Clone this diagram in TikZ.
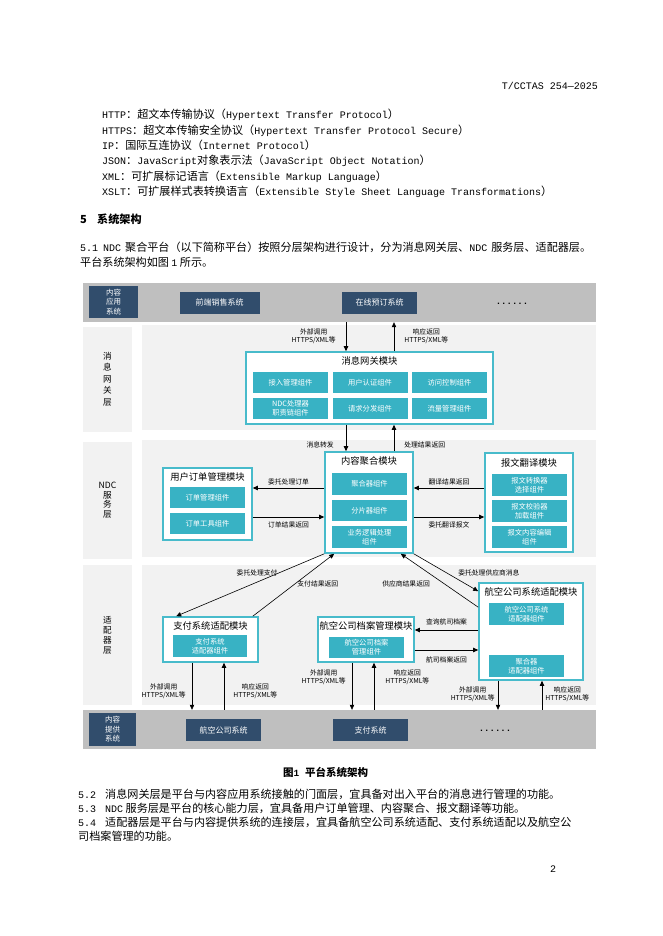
\documentclass[tikz,border=0pt]{standalone}
\usepackage{fontspec}
\setmainfont{Noto Sans CJK SC}
\newfontfamily\mono{Liberation Mono}[Scale=0.9]
\XeTeXlinebreaklocale "zh"
\XeTeXlinebreakskip=0pt plus 1pt
\usetikzlibrary{arrows.meta,calc,positioning}
\definecolor{bandgray}{RGB}{191,191,191}
\definecolor{panelgray}{RGB}{242,242,242}
\definecolor{navybox}{RGB}{49,77,108}
\definecolor{tealline}{RGB}{72,187,203}
\definecolor{tealfill}{RGB}{56,178,196}
\newcommand{\bodysize}{\fontsize{11.1}{15}\selectfont}

\begin{document}
\begin{tikzpicture}[x=1pt,y=-1pt,>={Triangle[length=5pt,width=4.4pt]},
    band/.style={fill=bandgray,inner sep=0,minimum height=39pt},
    panel/.style={fill=panelgray,inner sep=0,align=center},
    sysbox/.style={fill=navybox,text=white,inner sep=0,minimum height=22pt,font=\fontsize{8}{9.5}\selectfont},
    morelbl/.style={inner sep=0,font=\fontsize{10}{10}\selectfont\mono\bfseries},
    layertxt/.style={font=\fontsize{8.6}{#1}\selectfont},
    module/.style={draw=tealline,line width=1.6pt,fill=white,inner sep=0},
    modtitle/.style={inner sep=0,font=\fontsize{9.3}{11}\selectfont},
    comp/.style={fill=tealfill,text=white,inner sep=0,minimum width=75pt,minimum height=21pt,align=center,font=\fontsize{7.3}{8.8}\selectfont},
    lbl/.style={inner sep=0,align=center,font=\fontsize{6.8}{8}\selectfont},
    flow/.style={->,line width=0.6pt},
    body/.style={anchor=base west,inner sep=0,font=\bodysize}]
  \useasboundingbox[fill=white] (0,0) rectangle (662,936);

  % page text above the figure
  \node[body,anchor=base east] (hdr) at (598,90) {\mono T/CCTAS 254—2025};
  \node[body] (ab1) at (102,119) {{\mono HTTP}：超文本传输协议（{\mono Hypertext Transfer Protocol}）};
  \node[body] (ab2) at (102,135) {{\mono HTTPS}：超文本传输安全协议（{\mono Hypertext Transfer Protocol Secure}）};
  \node[body] (ab3) at (102,150) {{\mono IP}：国际互连协议（{\mono Internet Protocol}）};
  \node[body] (ab4) at (102,165) {{\mono JSON}：{\mono JavaScript}对象表示法（{\mono JavaScript Object Notation}）};
  \node[body] (ab5) at (102,180) {{\mono XML}：可扩展标记语言（{\mono Extensible Markup Language}）};
  \node[body] (ab6) at (102,196) {{\mono XSLT}：可扩展样式表转换语言（{\mono Extensible Style Sheet Language Transformations}）};
  \node[body,font=\bodysize\bfseries] (secnum) at (80,223) {5};
  \node[body,font=\bodysize\bfseries] (sectitle) at (97,223) {系统架构};
  \node[body] (p51num) at (80,251) {\mono 5.1};
  \node[body] (p51a) at (103,251) {\makebox[502pt][s]{{\mono NDC}\hspace{4pt}聚合平台（以下简称平台）按照分层架构进行设计，分为消息网关层、{\mono NDC}\hspace{4pt}服务层、适配器层。}};
  \node[body] (p51b) at (80,266) {平台系统架构如图 {\mono 1} 所示。};

  % bands and layer panels
  \node[band,minimum width=513pt] (appband) at (339.5,302.5) {};
  \node[sysbox,minimum width=49pt,minimum height=32pt,align=center,font=\fontsize{7.5}{9.5}\selectfont] (appsys) at (113.5,302) {内容\\应用\\系统};
  \node[sysbox,minimum width=80pt] (frontsale) at (219.5,302.5) {前端销售系统};
  \node[sysbox,minimum width=75pt] (onlinebook) at (379.5,302.5) {在线预订系统};
  \node[morelbl] (appmore) at (512,304) {......};

  \node[panel,minimum width=49pt,minimum height=105pt,layertxt=11.5] (gwlayer) at (107.5,379) {消\\息\\网\\关\\层};
  \node[panel,minimum width=454pt,minimum height=105pt] (gwpanel) at (369,377.5) {};
  \node[panel,minimum width=49pt,minimum height=117pt,layertxt=9.5] (ndclayer) at (107.5,500) {NDC\\服\\务\\层};
  \node[panel,minimum width=454pt,minimum height=117pt] (ndcpanel) at (369,498.5) {};
  \node[panel,minimum width=49pt,minimum height=140pt,layertxt=10] (adlayer) at (107.5,635) {适\\配\\器\\层};
  \node[panel,minimum width=454pt,minimum height=140pt] (adpanel) at (369,635) {};

  \node[band,minimum width=513pt] (provband) at (339.5,729.5) {};
  \node[sysbox,minimum width=47pt,minimum height=33pt,align=center,font=\fontsize{7.5}{9.5}\selectfont] (provsys) at (112.5,729.5) {内容\\提供\\系统};
  \node[sysbox,minimum width=75pt] (airsys) at (223.5,730) {航空公司系统};
  \node[sysbox,minimum width=75pt] (paysys) at (370.5,730) {支付系统};
  \node[morelbl] (provmore) at (495,731) {......};

  % message gateway layer
  \node[module,minimum width=247pt,minimum height=72pt] (gw) at (369.5,388) {};
  \node[modtitle,below=5.5pt of gw.north] (gwtitle) {消息网关模块};
  \node[comp] (access) at (290.5,382.5) {接入管理组件};
  \node[comp] (userauth) at (370,382.5) {用户认证组件};
  \node[comp] (acl) at (449.5,382.5) {访问控制组件};
  \node[comp] (chain) at (290.5,408.5) {NDC处理器\\职责链组件};
  \node[comp] (dispatch) at (370,408.5) {请求分发组件};
  \node[comp] (traffic) at (449.5,408.5) {流量管理组件};

  % NDC service layer
  \node[module,minimum width=88pt,minimum height=101pt] (agg) at (369,502.5) {};
  \node[modtitle,below=5.5pt of agg.north] (aggtitle) {内容聚合模块};
  \node[comp,minimum height=22pt] (aggc) at (369.5,484) {聚合器组件};
  \node[comp] (shard) at (369.5,510.5) {分片器组件};
  \node[comp,minimum height=22pt] (logic) at (369.5,537) {业务逻辑处理\\组件};

  \node[module,minimum width=89pt,minimum height=72pt] (ord) at (207.5,504) {};
  \node[modtitle,below=5pt of ord.north] (ordtitle) {用户订单管理模块};
  \node[comp] (ordmgr) at (207.5,497.5) {订单管理组件};
  \node[comp] (ordtool) at (207.5,523.5) {订单工具组件};

  \node[module,minimum width=88pt,minimum height=99pt] (trans) at (529,502.5) {};
  \node[modtitle,below=6.5pt of trans.north] (transtitle) {报文翻译模块};
  \node[comp,minimum height=22pt] (convsel) at (529.5,485) {报文转换器\\选择组件};
  \node[comp,minimum height=22pt] (valload) at (529.5,511) {报文校验器\\加载组件};
  \node[comp,minimum height=22pt] (msgedit) at (529.5,537) {报文内容编辑\\组件};

  % adapter layer
  \node[module,minimum width=95pt,minimum height=45pt] (pay) at (210.5,639.5) {};
  \node[modtitle,below=5pt of pay.north] (paytitle) {支付系统适配模块};
  \node[comp,minimum width=74pt,minimum height=22pt] (payc) at (210,646) {支付系统\\适配器组件};

  \node[module,minimum width=96pt,minimum height=45pt] (arc) at (366,639.5) {};
  \node[modtitle,below=5pt of arc.north] (arctitle) {航空公司档案管理模块};
  \node[comp] (arcc) at (366.5,647.5) {航空公司档案\\管理组件};

  \node[module,minimum width=104pt,minimum height=97pt] (air) at (531,631.5) {};
  \node[modtitle,below=5pt of air.north] (airtitle) {航空公司系统适配模块};
  \node[comp,minimum height=22pt] (airc) at (526.5,614) {航空公司系统\\适配器组件};
  \node[comp,minimum height=22pt] (aggad) at (526.5,666) {聚合器\\适配器组件};

  % connectors
  \coordinate (inx) at (346,0);
  \coordinate (outx) at (394,0);
  \draw[flow] (appband.south -| inx) -- (gw.north -| inx) node[midway,left=10pt,lbl]{外部调用\\HTTPS/XML等};
  \draw[flow] (gw.north -| outx) -- (appband.south -| outx) node[midway,right=10pt,lbl]{响应返回\\HTTPS/XML等};
  \draw[flow] (gw.south -| inx) -- (agg.north -| inx) node[pos=0.75,left=12pt,lbl]{消息转发};
  \draw[flow] (agg.north -| outx) -- (gw.south -| outx) node[pos=0.25,right=10pt,lbl]{处理结果返回};

  \coordinate (ndcup) at (0,488);
  \coordinate (ndcdown) at (0,517);
  \draw[flow] (agg.west |- ndcup) -- (ord.east |- ndcup) node[midway,above=3pt,lbl]{委托处理订单};
  \draw[flow] (ord.east |- ndcdown) -- (agg.west |- ndcdown) node[midway,below=4pt,lbl]{订单结果返回};
  \draw[flow] (trans.west |- ndcup) -- (agg.east |- ndcup) node[midway,above=3pt,lbl]{翻译结果返回};
  \draw[flow] (agg.east |- ndcdown) -- (trans.west |- ndcdown) node[midway,below=4pt,lbl]{委托翻译报文};

  \draw[flow] (agg.south west) -- ($(pay.north west)+(14,0)$) node[pos=0.3,left=2pt,lbl]{委托处理支付};
  \draw[flow] ($(pay.north east)+(-6,0)$) -- ($(agg.south west)+(10,0)$) node[pos=0.52,right=2pt,lbl]{支付结果返回};
  \draw[flow] (agg.south east) -- ($(air.north west)+(0,9)$) node[pos=0.5,right=12pt,lbl]{委托处理供应商消息};
  \draw[flow] ($(air.north west)+(0,25)$) -- ($(agg.south east)+(-13,0)$) node[pos=0.44,left=14pt,lbl]{供应商结果返回};

  \coordinate (adup) at (0,630);
  \coordinate (addown) at (0,650);
  \draw[flow] (air.west |- adup) -- (arc.east |- adup) node[midway,above=4.5pt,lbl]{查询航司档案};
  \draw[flow] (arc.east |- addown) -- (air.west |- addown) node[midway,below=6pt,lbl]{航司档案返回};

  \coordinate (payout) at (192,0);
  \coordinate (payin) at (224,0);
  \coordinate (arcout) at (352,0);
  \coordinate (arcin) at (374,0);
  \coordinate (airout) at (498,0);
  \coordinate (airin) at (542,0);
  \draw[flow] (pay.south -| payout) -- (provband.north -| payout) node[pos=0.6,left=6pt,lbl]{外部调用\\HTTPS/XML等};
  \draw[flow] (provband.north -| payin) -- (pay.south -| payin) node[pos=0.4,right=9pt,lbl]{响应返回\\HTTPS/XML等};
  \draw[flow] (arc.south -| arcout) -- (provband.north -| arcout) node[pos=0.3,left=6pt,lbl]{外部调用\\HTTPS/XML等};
  \draw[flow] (provband.north -| arcin) -- (arc.south -| arcin) node[pos=0.7,right=11pt,lbl]{响应返回\\HTTPS/XML等};
  \draw[flow] (air.south -| airout) -- (provband.north -| airout) node[pos=0.45,left=3pt,lbl]{外部调用\\HTTPS/XML等};
  \draw[flow] (provband.north -| airin) -- (air.south -| airin) node[pos=0.55,right=3pt,lbl]{响应返回\\HTTPS/XML等};

  % caption and text below the figure
  \node[body,font=\fontsize{10.5}{12}\selectfont\bfseries] (capnum) at (283,776) {图{\mono 1}};
  \node[body,font=\fontsize{10.5}{12}\selectfont\bfseries] (captext) at (305,776) {平台系统架构};
  \node[body] (p52num) at (78,798) {\mono 5.2};
  \node[body] (p52) at (105,798) {消息网关层是平台与内容应用系统接触的门面层，宜具备对出入平台的消息进行管理的功能。};
  \node[body] (p53num) at (78,812) {\mono 5.3};
  \node[body] (p53) at (105,812) {{\mono NDC} 服务层是平台的核心能力层，宜具备用户订单管理、内容聚合、报文翻译等功能。};
  \node[body] (p54num) at (78,826) {\mono 5.4};
  \node[body] (p54a) at (105,826) {适配器层是平台与内容提供系统的连接层，宜具备航空公司系统适配、支付系统适配以及航空公};
  \node[body] (p54b) at (78,840) {司档案管理的功能。};
  \node[body] (pageno) at (550,872) {\mono 2};
\end{tikzpicture}
\end{document}
